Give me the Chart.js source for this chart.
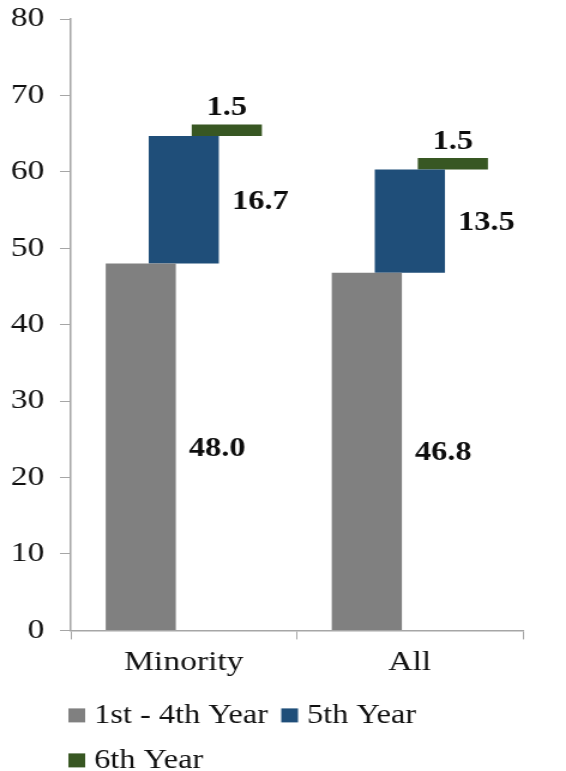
<!DOCTYPE html>
<html>
<head>
<meta charset="utf-8">
<script src="https://cdn.jsdelivr.net/npm/chart.js@4/dist/chart.umd.min.js"></script>
<style>
  html, body { margin: 0; padding: 0; background: #ffffff; overflow: hidden; }
  #wrap { position: absolute; left: 0; top: 0; width: 472px; height: 771px;
          transform: scaleX(1.1992); transform-origin: 0 0; }
</style>
</head>
<body>
<div id="wrap"><canvas id="c"></canvas></div>
<script>
// ---- data ----
const categories = ['Minority', 'All'];
const seriesNames = ['1st - 4th Year', '5th Year', '6th Year'];
const years1to4 = [48.0, 46.8];
const year5 = [16.7, 13.5];
const year6 = [1.5, 1.5];
const yTickMin = 0, yTickMax = 80, yTickStep = 10;
const colors = ['#808080', '#1f4e79', '#385723'];

const FONT = '"Liberation Serif", "Times New Roman", serif';

// floating ranges built from the values (waterfall)
const r1 = years1to4.map(v => [0, v]);
const r2 = years1to4.map((v, i) => [v, v + year5[i]]);
const r3 = years1to4.map((v, i) => [v + year5[i], v + year5[i] + year6[i]]);
const rawValues = [years1to4, year5, year6];

const labelPlugin = {
  id: 'valueLabels',
  afterDatasetsDraw(chart) {
    const ctx = chart.ctx;
    ctx.save();
    ctx.font = 'bold 27px ' + FONT;
    ctx.fillStyle = '#0d0d0d';
    chart.data.datasets.forEach((ds, di) => {
      const meta = chart.getDatasetMeta(di);
      meta.data.forEach((el, i) => {
        const txt = rawValues[di][i].toFixed(1);
        if (di < 2) {
          ctx.textAlign = 'left';
          ctx.textBaseline = 'middle';
          ctx.fillText(txt, el.x + el.width / 2 + 11, (el.y + el.base) / 2 + 2);
        } else {
          ctx.textAlign = 'center';
          ctx.textBaseline = 'alphabetic';
          ctx.fillText(txt, el.x, el.y - 9);
        }
      });
    });
    ctx.restore();
  }
};

// simple wrapped legend under the plot, left-aligned with the y axis
const legendPlugin = {
  id: 'customLegend',
  afterDraw(chart) {
    const ctx = chart.ctx;
    const area = chart.chartArea;
    ctx.save();
    ctx.font = '27px ' + FONT;
    ctx.textBaseline = 'middle';
    ctx.textAlign = 'left';
    const box = 14, gap = 7.5, itemGap = 11, rowH = 45;
    const startX = area.left - 2;
    let x = startX, y = area.bottom + 85;
    chart.data.datasets.forEach(ds => {
      const w = box + gap + ctx.measureText(ds.label).width;
      if (x > startX && x + w > area.right) { x = startX; y += rowH; }
      ctx.fillStyle = ds.backgroundColor;
      ctx.fillRect(x, y - 7, box, 14);
      ctx.fillStyle = '#111111';
      ctx.fillText(ds.label, x + box + gap, y + 1);
      x += w + itemGap;
    });
    ctx.restore();
  }
};

new Chart(document.getElementById('c'), {
  type: 'bar',
  data: {
    labels: categories,
    datasets: [
      { label: seriesNames[0], data: r1, backgroundColor: colors[0] },
      { label: seriesNames[1], data: r2, backgroundColor: colors[1] },
      { label: seriesNames[2], data: r3, backgroundColor: colors[2] }
    ]
  },
  options: {
    responsive: true,
    maintainAspectRatio: false,
    animation: false,
    categoryPercentage: 0.571,
    barPercentage: 1.63,
    layout: { padding: { top: 19, left: 0, right: 36, bottom: 86 } },
    plugins: {
      tooltip: { enabled: false },
      legend: { display: false }
    },
    scales: {
      x: {
        grid: { display: true, drawOnChartArea: false, drawTicks: true, tickLength: 9, color: '#a6a6a6', offset: true },
        border: { display: true, color: '#a6a6a6', width: 1.5 },
        ticks: { font: { family: FONT, size: 28 }, color: '#111111', padding: 6 }
      },
      y: {
        min: yTickMin,
        max: yTickMax,
        afterFit(scale) { scale.width = 59; scale.paddingTop = 0; scale.paddingBottom = 0; },
        grid: { display: true, drawOnChartArea: false, drawTicks: true, tickLength: 9, color: '#a6a6a6' },
        border: { display: true, color: '#a6a6a6', width: 1.5 },
        ticks: { stepSize: yTickStep, font: { family: FONT, size: 28 }, color: '#111111', padding: 13 }
      }
    }
  },
  plugins: [labelPlugin, legendPlugin]
});
</script>
</body>
</html>
